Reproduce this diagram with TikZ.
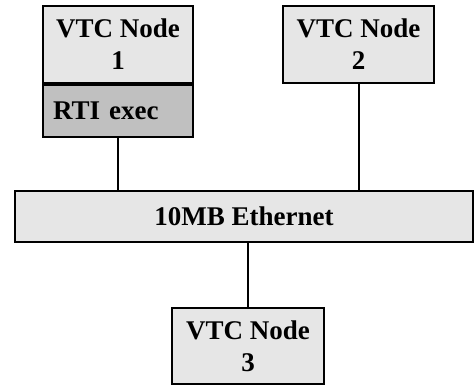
\documentclass[tikz,border=0pt]{standalone}
\usepackage{fontspec}
\setmainfont{Liberation Serif}
\begin{document}
\begin{tikzpicture}[x=1pt,y=-1pt,
  box/.style={draw=black, line width=2pt, fill=boxlight, align=center, inner sep=0pt,
    font=\fontsize{27}{32}\selectfont\bfseries},
  line/.style={draw=black, line width=2pt}]
\definecolor{boxlight}{RGB}{230,230,230}
\definecolor{boxdark}{RGB}{192,192,192}
\useasboundingbox (0,0) rectangle (474,385);
\node[box, minimum width=150pt, minimum height=77pt] (n1) at (118,44.5) {VTC Node\\1};
\node[box, fill=boxdark, anchor=north, minimum width=150pt, minimum height=52pt,
  text width=130pt, align=left] (rti) at (n1.south) {RTI exec};
\node[box, minimum width=151pt, minimum height=77pt] (n2) at (358.5,44.5) {VTC Node\\2};
\node[box, minimum width=458pt, minimum height=51pt] (eth) at (244,216.5) {10MB Ethernet};
\node[box, minimum width=152pt, minimum height=76pt] (n3) at (248,346) {VTC Node\\3};
\draw[line] (rti.south) -- (rti.south |- eth.north);
\draw[line] (n2.south) -- (n2.south |- eth.north);
\draw[line] (eth.south -| n3.north) -- (n3.north);
\end{tikzpicture}
\end{document}
